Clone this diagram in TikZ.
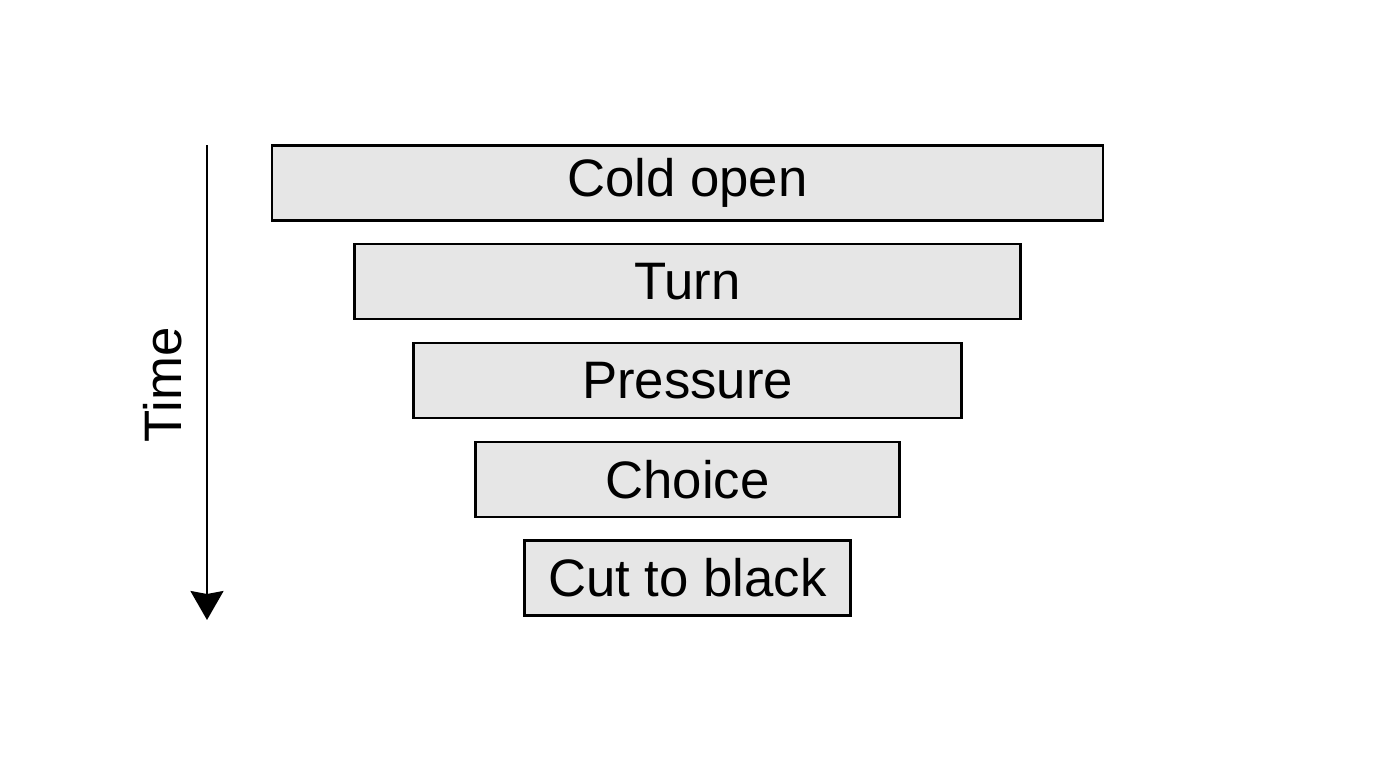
\documentclass[tikz,border=0pt]{standalone}
\usepackage{fontspec}
\setmainfont{Liberation Sans}
\usetikzlibrary{positioning,arrows.meta}
\definecolor{boxfill}{HTML}{E6E6E6}

\begin{document}
\begin{tikzpicture}[line width=0.65pt,node distance=0.215cm,
	stagebox/.style={draw,fill=boxfill,minimum height=0.75cm,inner sep=0pt,
		font=\fontsize{15}{18}\selectfont}]
		\fill[white] (0,0) rectangle (13.76,-7.68);
		\node[stagebox,minimum width=8.31cm] (cold) at (6.875,-1.83) {Cold open};
		\node[stagebox,minimum width=6.66cm,below=of cold] (turn) {Turn};
		\node[stagebox,minimum width=5.48cm,below=of turn] (pressure) {Pressure};
		\node[stagebox,minimum width=4.24cm,below=of pressure] (choice) {Choice};
		\node[stagebox,minimum width=3.26cm,below=of choice] (cut) {Cut to black};
		% time axis
		\coordinate (timetop) at (2.07,-1.45);
		\coordinate (timebot) at (2.07,-6.20);
		\draw[-{Stealth[length=0.29cm,width=0.33cm,inset=0.03cm]}] (timetop) -- (timebot);
		\node[rotate=90,font=\fontsize{15}{18}\selectfont] (time) at (1.63,-3.85) {Time};
		
	\end{tikzpicture}
\end{document}
